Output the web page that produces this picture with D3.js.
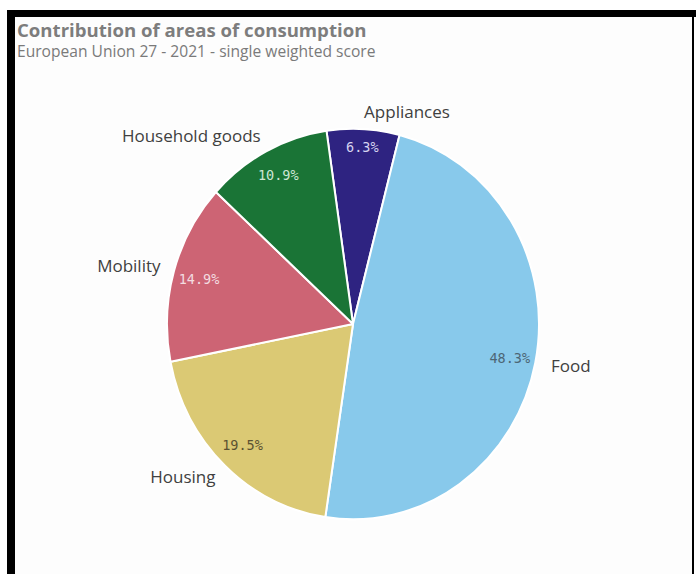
<!DOCTYPE html>
<html>
<head>
<meta charset="utf-8">
<script src="https://cdn.jsdelivr.net/npm/d3@7"></script>
<style>
  body { margin: 0; background: #fff; }
  svg { display: block; }
</style>
</head>
<body>
<div id="chart"></div>
<script>
// Chart data
const categories = ['Appliances', 'Food', 'Housing', 'Mobility', 'Household goods'];
const shares = [6.3, 48.3, 19.5, 14.9, 10.9];
const sliceColors = ['#2e2381', '#88c9eb', '#dbc974', '#cd6474', '#1a7436'];
const pctColors = ['#d6d3f0', '#4d6675', '#5b5232', '#f3dce0', '#cde6d4'];

const w = 696, h = 574,
  cx = 353, cy = 324, // pie centre
  r = 186, // horizontal radius
  yStretch = 1.05; // picture is slightly taller than wide

const svg = d3.select('#chart').append('svg')
  .attr('width', w).attr('height', h);

// frame
svg.append('rect').attr('x', 15).attr('y', 17).attr('width', 678).attr('height', h)
  .attr('fill', '#fdfdfd');
svg.append('rect').attr('x', 7).attr('y', 10).attr('width', w - 7).attr('height', 7).attr('fill', '#000');
svg.append('rect').attr('x', 7).attr('y', 10).attr('width', 8).attr('height', h).attr('fill', '#000');
svg.append('rect').attr('x', 692).attr('y', 10).attr('width', 2).attr('height', h).attr('fill', '#000');

// titles
svg.append('text').attr('x', 17).attr('y', 37)
  .attr('font-family', 'Open Sans').attr('font-weight', 700).attr('font-size', 18.6)
  .attr('fill', '#7d7d7d').text('Contribution of areas of consumption');
svg.append('text').attr('x', 17).attr('y', 57)
  .attr('font-family', 'Open Sans').attr('font-size', 15.6)
  .attr('fill', '#7a7a7a').text('European Union 27 - 2021 - single weighted score');

const data = categories.map((c, i) => ({ name: c, value: shares[i], color: sliceColors[i], pc: pctColors[i] }));

const pie = d3.pie().sort(null).value(d => d.value)
  .startAngle(-8.2 * Math.PI / 180)
  .endAngle(-8.2 * Math.PI / 180 + 2 * Math.PI);
const arcs = pie(data);

const arc = d3.arc().innerRadius(0).outerRadius(r);

const g = svg.append('g')
  .attr('transform', `translate(${cx},${cy}) scale(1,${yStretch})`);

g.selectAll('path').data(arcs).join('path')
  .attr('d', arc)
  .attr('fill', d => d.data.color)
  .attr('stroke', '#fff')
  .attr('stroke-width', 2)
  .attr('stroke-linejoin', 'round');

const mid = d => (d.startAngle + d.endAngle) / 2;

// point on the (stretched) circle at a given radius for a slice's mid angle
const pos = (d, rad) => {
  const a = mid(d);
  return [cx + Math.sin(a) * rad, cy - Math.cos(a) * rad * yStretch];
};

// narrow slices push their label nearer the rim
const pctRadius = d => (d.endAngle - d.startAngle < 0.5 ? 0.91 : 0.86) * r;

// percentage labels inside slices
svg.selectAll('.pct').data(arcs).join('text')
  .attr('class', 'pct')
  .attr('x', d => pos(d, pctRadius(d))[0])
  .attr('y', d => pos(d, pctRadius(d))[1])
  .attr('text-anchor', 'middle')
  .attr('dominant-baseline', 'central')
  .attr('font-family', 'DejaVu Sans Mono')
  .attr('font-size', 13.5)
  .attr('fill', d => d.data.pc)
  .text(d => d.data.value.toFixed(1) + '%');

// category labels outside
svg.selectAll('.cat').data(arcs).join('text')
  .attr('class', 'cat')
  .attr('x', d => pos(d, r + 16)[0] + (Math.sin(mid(d)) >= 0 ? 0 : 2))
  .attr('y', d => pos(d, r + 16)[1] - 1)
  .attr('text-anchor', d => Math.sin(mid(d)) >= 0 ? 'start' : 'end')
  .attr('dominant-baseline', 'central')
  .attr('font-family', 'Open Sans')
  .attr('font-size', 17)
  .attr('fill', '#404040')
  .text(d => d.data.name);
</script>
</body>
</html>
